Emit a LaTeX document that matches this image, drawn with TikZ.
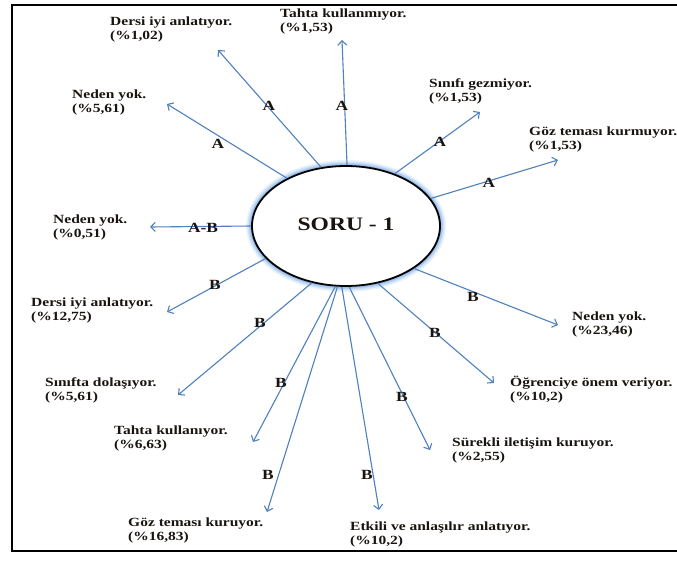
\documentclass[tikz,border=0pt]{standalone}
\usepackage{fontspec}
\setmainfont{Liberation Serif}
\newfontfamily\txtfont[FakeStretch=1.24]{Liberation Serif}
\usetikzlibrary{shapes.geometric,arrows.meta}
\definecolor{arrowblue}{RGB}{79,129,189}
\definecolor{glowblue}{RGB}{130,178,232}
\definecolor{txtcol}{RGB}{25,20,15}
\begin{document}
\begin{tikzpicture}[x=1pt,y=-1pt,
  answer/.style={anchor=west,align=left,inner sep=0pt,text=txtcol,
    font=\txtfont\bfseries\fontsize{12.5}{14}\selectfont},
  edgelbl/.style={inner sep=0pt,text=txtcol,
    font=\txtfont\bfseries\fontsize{14}{16}\selectfont},
  conn/.style={draw=arrowblue,line width=1.1pt,
    -{Straight Barb[length=4.5pt,width=9pt,line width=1.1pt]}},
  hub/.style={ellipse,draw=black,line width=1.8pt,fill=white,
    minimum width=188pt,minimum height=120pt,inner sep=0pt,text=txtcol,
    font=\txtfont\bfseries\fontsize{19}{22}\selectfont},
  frameline/.style={draw=black,line width=2.8pt}
]
\useasboundingbox (0,0) rectangle (677,560);
\fill[white] (0,0) rectangle (677,560);
% frame
\draw[frameline] (677,5) -- (12,5) -- (12,551) -- (677,551);
% glow
\foreach \w/\o in {12/0.15,9/0.25,6/0.4,3.5/0.6}
  \draw[glowblue,line width=\w pt,opacity=\o] (346,226) ellipse [x radius=94pt,y radius=60pt];
% hub
\node[hub] (c) at (346,226) {\raisebox{4pt}{SORU - 1}};
% answer texts
\node[answer] (t1)  at (110,29)  {Dersi iyi anlatıyor.\\(\%1,02)};
\node[answer] (t2)  at (280,21)  {Tahta kullanmıyor.\\(\%1,53)};
\node[answer] (t3)  at (429,91)  {Sınıfı gezmiyor.\\(\%1,53)};
\node[answer] (t4)  at (529,139) {Göz teması kurmuyor.\\(\%1,53)};
\node[answer] (t5)  at (72,102)  {Neden yok.\\(\%5,61)};
\node[answer] (t6)  at (53,227)  {Neden yok.\\(\%0,51)};
\node[answer] (t7)  at (31,310)  {Dersi iyi anlatıyor.\\(\%12,75)};
\node[answer] (t8)  at (45,390)  {Sınıfta dolaşıyor.\\(\%5,61)};
\node[answer] (t9)  at (114,438) {Tahta kullanıyor.\\(\%6,63)};
\node[answer] (t10) at (128,530) {Göz teması kuruyor.\\(\%16,83)};
\node[answer] (t11) at (350,534) {Etkili ve anlaşılır anlatıyor.\\(\%10,2)};
\node[answer] (t12) at (452,450) {Sürekli iletişim kuruyor.\\(\%2,55)};
\node[answer] (t13) at (510,390) {Öğrenciye önem veriyor.\\(\%10,2)};
\node[answer] (t14) at (572,324) {Neden yok.\\(\%23,46)};
% arrow tips
\coordinate (e1) at (218,50);
\coordinate (e2) at (167,104);
\coordinate (e3) at (342,40);
\coordinate (e4) at (480,112);
\coordinate (e5) at (558,160);
\coordinate (e6) at (150,227);
\coordinate (e7) at (167,312);
\coordinate (e8) at (178,395);
\coordinate (e9) at (253,442);
\coordinate (e10) at (267,512);
\coordinate (e11) at (379,510);
\coordinate (e12) at (430,450);
\coordinate (e13) at (494,383);
\coordinate (e14) at (558,325);
% connectors
\draw[conn] (c.113.8) -- (e1);
\draw[conn] (c.141.2) -- (e2);
\draw[conn] (c.89) -- (e3);
\draw[conn] (c.47.5) -- (e4);
\draw[conn] (c.18.6) -- (e5);
\draw[conn] (c.180) -- (e6);
\draw[conn] (c.202.3) -- (e7);
\draw[conn] (c.239.4) -- (e8);
\draw[conn] (c.260) -- (e9);
\draw[conn] (c.262.6) -- (e10);
\draw[conn] (c.266.4) -- (e11);
\draw[conn] (c.273.6) -- (e12);
\draw[conn] (c.299) -- (e13);
\draw[conn] (c.328.8) -- (e14);
% connector labels
\node[edgelbl] (l1)  at (269,106) {A};
\node[edgelbl] (l2)  at (218,144) {A};
\node[edgelbl] (l3)  at (342,106) {A};
\node[edgelbl] (l4)  at (440,142) {A};
\node[edgelbl] (l5)  at (489,183) {A};
\node[edgelbl] (l6)  at (203,228) {A-B};
\node[edgelbl] (l7)  at (215,285) {B};
\node[edgelbl] (l8)  at (260,323) {B};
\node[edgelbl] (l9)  at (281,383) {B};
\node[edgelbl] (l10) at (268,475) {B};
\node[edgelbl] (l11) at (367,475) {B};
\node[edgelbl] (l12) at (402,397) {B};
\node[edgelbl] (l13) at (435,333) {B};
\node[edgelbl] (l14) at (473,297) {B};
\end{tikzpicture}
\end{document}
